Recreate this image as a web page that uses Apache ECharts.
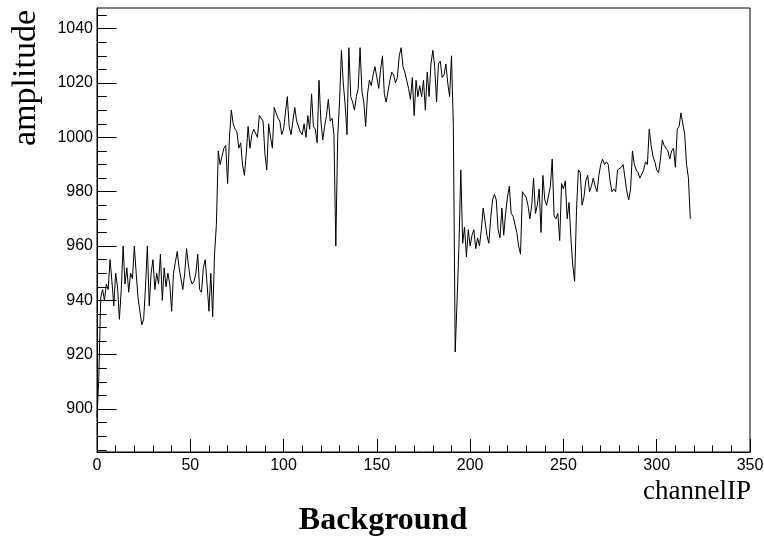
<!DOCTYPE html>
<html>
<head>
<meta charset="utf-8">
<script src="https://cdn.jsdelivr.net/npm/echarts@6/dist/echarts.min.js"></script>
<style>html,body{margin:0;padding:0;background:#fff;}#c{width:764px;height:538px;}</style>
</head>
<body>
<div id="c"></div>
<script>
// amplitude per channel, starting at channel 0
var amplitude = [
897, 912, 941, 944, 940, 946, 944, 955, 947, 938,
950, 945, 933, 944, 960, 946, 952, 943, 950, 948,
960, 950, 941, 936, 931, 933, 945, 960, 938, 950,
955, 944, 950, 946, 957, 940, 952, 945, 950, 946,
936, 950, 954, 958, 952, 952, 944, 950, 959, 953,
948, 946, 947, 950, 957, 944, 943, 952, 955, 946,
936, 950, 934, 957, 968, 995, 990, 993, 996, 997,
983, 1000, 1010, 1005, 1003, 1002, 996, 998, 990, 986,
994, 1004, 996, 1001, 1003, 1003, 1000, 1008, 1008, 1006,
994, 988, 1005, 1000, 996, 1011, 1009, 1007, 1006, 1001,
1003, 1009, 1015, 1004, 1001, 1006, 1011, 1006, 1006, 1002,
1001, 1005, 1000, 1008, 1003, 1016, 1004, 1003, 998, 1021,
1006, 999, 1004, 1008, 1014, 1006, 1007, 1001, 960, 1000,
1013, 1032, 1020, 1012, 1001, 1033, 1015, 1013, 1010, 1015,
1018, 1033, 1017, 1013, 1004, 1016, 1021, 1019, 1023, 1026,
1022, 1018, 1025, 1030, 1016, 1013, 1017, 1021, 1024, 1023,
1020, 1022, 1030, 1033, 1026, 1024, 1021, 1018, 1014, 1022,
1008, 1021, 1015, 1019, 1015, 1021, 1010, 1024, 1015, 1027,
1032, 1026, 1013, 1027, 1028, 1022, 1023, 1027, 1020, 1015,
1030, 1004, 921, 940, 960, 988, 961, 967, 956, 966,
960, 964, 966, 959, 963, 960, 966, 974, 974, 964,
961, 970, 977, 979, 977, 966, 963, 974, 964, 972,
978, 982, 972, 971, 971, 965, 960, 957, 980, 979,
978, 975, 970, 975, 985, 972, 975, 981, 965, 986,
977, 975, 975, 982, 992, 971, 970, 972, 962, 983,
981, 984, 970, 976, 963, 953, 947, 973, 988, 987,
975, 978, 984, 986, 980, 982, 985, 982, 980, 986,
990, 992, 990, 991, 990, 984, 980, 981, 980, 988,
988, 989, 990, 985, 980, 977, 981, 995, 990, 988,
987, 985, 985, 988, 991, 990, 1003, 997, 993, 991,
988, 987, 992, 999, 997, 997, 995, 992, 995, 996,
989, 1003, 1004, 1009, 1005, 1001, 990, 985, 970
];
var yMajorTicks = [900, 920, 940, 960, 980, 1000, 1020, 1040];
var yMinorTicks = [885, 890, 895, 905, 910, 915, 925, 930, 935, 945, 950, 955, 965, 970, 975, 985, 990, 995, 1005, 1010, 1015, 1025, 1030, 1035, 1045];
var xTitle = 'channelIP';
var yTitle = 'amplitude';
var chartTitle = 'Background';

var points = amplitude.map(function (v, i) { return [i, v]; });
var yMin = 884.2, yMax = 1047.6;
var labelFont = {color: '#000', fontSize: 16, fontFamily: 'Liberation Sans, Arial, sans-serif'};
var plain = function (v) { return String(v); };

var chart = echarts.init(document.getElementById('c'), null, {renderer: 'canvas'});
chart.setOption({
  animation: false,
  backgroundColor: '#fff',
  grid: {left: 97, right: 14, top: 8, bottom: 86, containLabel: false, outerBoundsMode: 'none',
         show: true, borderColor: '#000', borderWidth: 1, backgroundColor: 'transparent'},
  xAxis: {
    type: 'value', min: 0, max: 350, interval: 50,
    axisLine: {show: true, onZero: false, lineStyle: {color: '#000', width: 1}},
    axisTick: {show: true, inside: true, length: 13, lineStyle: {color: '#000'}},
    minorTick: {show: true, splitNumber: 5, length: 6.5, lineStyle: {color: '#000'}},
    axisLabel: Object.assign({margin: 6, formatter: plain}, labelFont),
    splitLine: {show: false}
  },
  yAxis: [{
    type: 'value', min: yMin, max: yMax, position: 'left',
    axisLine: {show: true, onZero: false, lineStyle: {color: '#000', width: 1}},
    axisTick: {show: true, inside: true, length: 19.6, customValues: yMajorTicks, lineStyle: {color: '#000'}},
    axisLabel: Object.assign({margin: 4, customValues: yMajorTicks, formatter: plain}, labelFont),
    splitLine: {show: false}
  }, {
    type: 'value', min: yMin, max: yMax, position: 'left',
    axisLine: {show: false},
    axisTick: {show: true, inside: true, length: 9.8, customValues: yMinorTicks, lineStyle: {color: '#000'}},
    axisLabel: {show: false},
    splitLine: {show: false}
  }],
  series: [{
    type: 'line', data: points, yAxisIndex: 0, showSymbol: false, symbol: 'none',
    lineStyle: {color: '#000', width: 1}, silent: true
  }],
  graphic: [
    {type: 'text', x: 26, y: 10, rotation: Math.PI / 2,
     style: {text: yTitle, fill: '#000', font: '34px "Liberation Serif", "Times New Roman", serif', align: 'right', verticalAlign: 'middle'}},
    {type: 'text', x: 751, y: 492,
     style: {text: xTitle, fill: '#000', font: '27px "Liberation Serif", "Times New Roman", serif', align: 'right', verticalAlign: 'middle'}},
    {type: 'text', x: 383, y: 521,
     style: {text: chartTitle, fill: '#000', font: 'bold 32px "Liberation Serif", "Times New Roman", serif', align: 'center', verticalAlign: 'middle'}}
  ]
});
</script>
</body>
</html>
